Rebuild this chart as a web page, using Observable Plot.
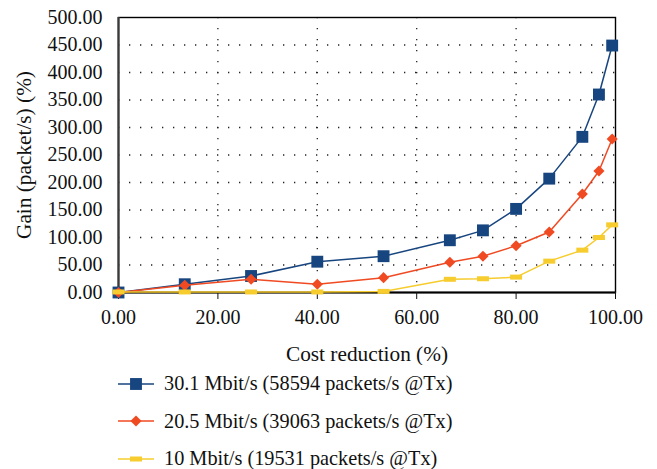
<!DOCTYPE html>
<html>
<head>
<meta charset="utf-8">
<script src="https://cdn.jsdelivr.net/npm/d3@7"></script>
<script src="https://cdn.jsdelivr.net/npm/@observablehq/plot@0.6"></script>
<style>
  html, body { margin: 0; padding: 0; background: #fff; }
  #wrap { width: 657px; height: 469px; font-family: "Liberation Serif", "DejaVu Serif", serif; color: #111; }
  .legend { padding-left: 118px; }
  .legend .row { height: 37.5px; display: flex; align-items: center; font-size: 20.3px; }
  .legend svg { margin-right: 10px; }
  g[aria-label="x-axis label"], g[aria-label="y-axis label"] { font-size: 21.3px; }
</style>
</head>
<body>
<div id="wrap"></div>
<script>
const costReduction = [0, 13.33, 26.67, 40, 53.33, 66.67, 73.33, 80, 86.67, 93.33, 96.67, 99.33];
const gain30 = [0, 15, 30, 56, 66, 95, 113, 152, 207, 283, 360, 449];
const gain20 = [0, 13, 24, 15, 27, 55, 66, 85, 110, 179, 221, 279];
const gain10 = [1, 1, 1, 1, 2, 24, 25, 28, 57, 77, 100, 123];
const seriesNames = [
  "30.1 Mbit/s (58594 packets/s @Tx)",
  "20.5 Mbit/s (39063 packets/s @Tx)",
  "10 Mbit/s (19531 packets/s @Tx)"
];
const seriesColors = ["#17457f", "#f04a23", "#f6cc2e"];
const xTicks = [0, 20, 40, 60, 80, 100];
const yTicks = [0, 50, 100, 150, 200, 250, 300, 350, 400, 450, 500];
const xGrid = [20, 40, 60, 80];
const yGrid = [50, 100, 150, 200, 250, 300, 350, 400, 450];

const allGains = [gain30, gain20, gain10];
const rows = allGains.map((g, i) => costReduction.map((x, j) => ({x, y: g[j], s: seriesNames[i]})));

// custom horizontal bar symbol for the 10 Mbit/s series
const barSymbol = {
  draw(context, size) {
    const w = 12, h = 5;
    context.rect(-w / 2, -h / 2, w, h);
  }
};
const symbols = ["square", "diamond2", barSymbol];
const radii = [6.7, 5, 5];

const marks = [
  Plot.gridX(xGrid, {stroke: "#222", strokeOpacity: 1, strokeWidth: 1.3, strokeDasharray: "1.3,9.7"}),
  Plot.gridY(yGrid, {stroke: "#222", strokeOpacity: 1, strokeWidth: 1.3, strokeDasharray: "1.3,9.7"}),
  Plot.frame({stroke: "#000", strokeWidth: 1.4}),
  Plot.ruleX([0], {stroke: "#3a3a3a", strokeWidth: 2.2}),
  Plot.ruleY([0], {stroke: "#000", strokeWidth: 1.8}),
  Plot.axisX({ticks: xTicks, tickFormat: d3.format(".2f"), tickSize: 7, tickPadding: 10,
    label: "Cost reduction (%)", labelAnchor: "center", labelArrow: "none", labelOffset: 68}),
  Plot.axisY({ticks: yTicks, tickFormat: d3.format(".2f"), tickSize: 0, tickPadding: 16,
    label: "Gain (packet/s) (%)", labelAnchor: "center", labelArrow: "none", labelOffset: 103})
];
rows.forEach((data, i) => {
  marks.push(Plot.line(data, {x: "x", y: "y", stroke: seriesColors[i], strokeWidth: 1.5}));
  marks.push(Plot.dot(data, {x: "x", y: "y", symbol: () => symbols[i], r: radii[i], fill: seriesColors[i], stroke: "none"}));
});

const chart = Plot.plot({
  width: 657,
  height: 365,
  marginLeft: 118,
  marginRight: 42,
  marginTop: 17,
  marginBottom: 73,
  x: {domain: [0, 100]},
  y: {domain: [0, 500]},
  symbol: {type: "identity"},
  style: {fontFamily: "Liberation Serif, DejaVu Serif, serif", fontSize: "20px", color: "#111", background: "#fff"},
  marks
});

const wrap = document.getElementById("wrap");
wrap.appendChild(chart);

// legend below the chart
const legend = document.createElement("div");
legend.className = "legend";
seriesNames.forEach((name, i) => {
  const row = document.createElement("div");
  row.className = "row";
  const sw = d3.create("svg").attr("width", 36).attr("height", 16);
  sw.append("line").attr("x1", 0).attr("x2", 36).attr("y1", 8).attr("y2", 8)
    .attr("stroke", seriesColors[i]).attr("stroke-width", 1.5);
  const sym = i === 2 ? barSymbol : (i === 0 ? d3.symbolSquare : d3.symbolDiamond2);
  const size = Math.PI * radii[i] * radii[i];
  sw.append("path").attr("transform", "translate(18,8)")
    .attr("d", d3.symbol(sym, size)()).attr("fill", seriesColors[i]);
  row.appendChild(sw.node());
  const t = document.createElement("span");
  t.textContent = name;
  row.appendChild(t);
  legend.appendChild(row);
});
wrap.appendChild(legend);
</script>
</body>
</html>
